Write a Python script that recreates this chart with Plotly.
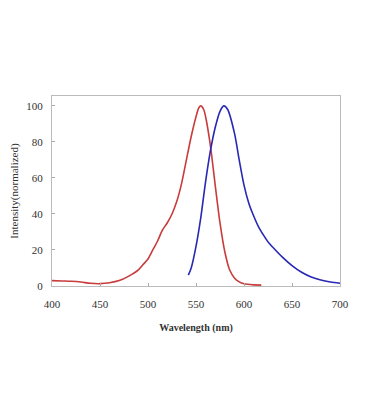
import plotly.graph_objects as go

# Excitation (red)
red_x = [400, 410, 420, 430, 440, 450, 460, 470, 480, 490, 495, 500, 505, 510, 515, 520, 525, 530, 535, 540, 545, 550, 553, 555, 558, 560, 565, 570, 575, 580, 585, 590, 595, 600, 610, 618]
red_y = [3, 2.8, 2.6, 2.2, 1.5, 1.3, 1.8, 3, 5.5, 9, 12, 15, 20, 25, 31, 35, 40, 47, 57, 70, 83, 94, 99, 100, 98, 94, 78, 56, 35, 19, 9, 4.5, 2.3, 1.2, 0.6, 0.5]

# Emission (blue)
blue_x = [542, 545, 550, 555, 560, 565, 570, 575, 579, 583, 590, 595, 600, 605, 610, 615, 620, 625, 630, 640, 650, 660, 670, 680, 690, 700]
blue_y = [6, 10, 22, 38, 58, 75, 88, 97, 100, 98, 85, 70, 56, 46, 39, 33, 28.5, 24.5, 21.5, 16, 11.3, 7.6, 5, 3.3, 2.2, 1.5]

x_ticks = [400, 450, 500, 550, 600, 650, 700]
y_ticks = [0, 20, 40, 60, 80, 100]

fig = go.Figure()
fig.add_trace(go.Scatter(x=red_x, y=red_y, mode="lines",
                         line=dict(color="rgb(200,60,60)", width=1.6, shape="spline", smoothing=0.8),
                         showlegend=False))
fig.add_trace(go.Scatter(x=blue_x, y=blue_y, mode="lines",
                         line=dict(color="rgb(40,40,180)", width=1.6, shape="spline", smoothing=0.8),
                         showlegend=False))

font = dict(family="Liberation Serif, Times New Roman, serif", size=11, color="#333")
# page body has an 8px margin, so the figure is offset by 8px
fig.update_layout(
    width=353, height=403,
    margin=dict(l=44, r=21, t=88, b=125),
    paper_bgcolor="white", plot_bgcolor="white",
    font=font,
    xaxis=dict(range=[400, 700], tickvals=x_ticks, ticks="inside", ticklen=3, tickcolor="#aaa",
               showgrid=False, zeroline=False, showline=True, linecolor="#bbb", linewidth=1, mirror=True,
               automargin=False, ticklabelstandoff=8,
               title=dict(text="<b>Wavelength (nm)</b>", font=dict(size=10), standoff=14),
               tickfont=dict(size=11)),
    yaxis=dict(range=[0, 105.5], tickvals=y_ticks, ticks="inside", ticklen=3, tickcolor="#aaa",
               showgrid=False, zeroline=False, showline=True, linecolor="#bbb", linewidth=1, mirror=True,
               automargin=False, ticklabelstandoff=6,
               title=dict(text="Intensity(normalized)", font=dict(size=11), standoff=11),
               tickfont=dict(size=11)),
)
fig.write_html("out.html")
